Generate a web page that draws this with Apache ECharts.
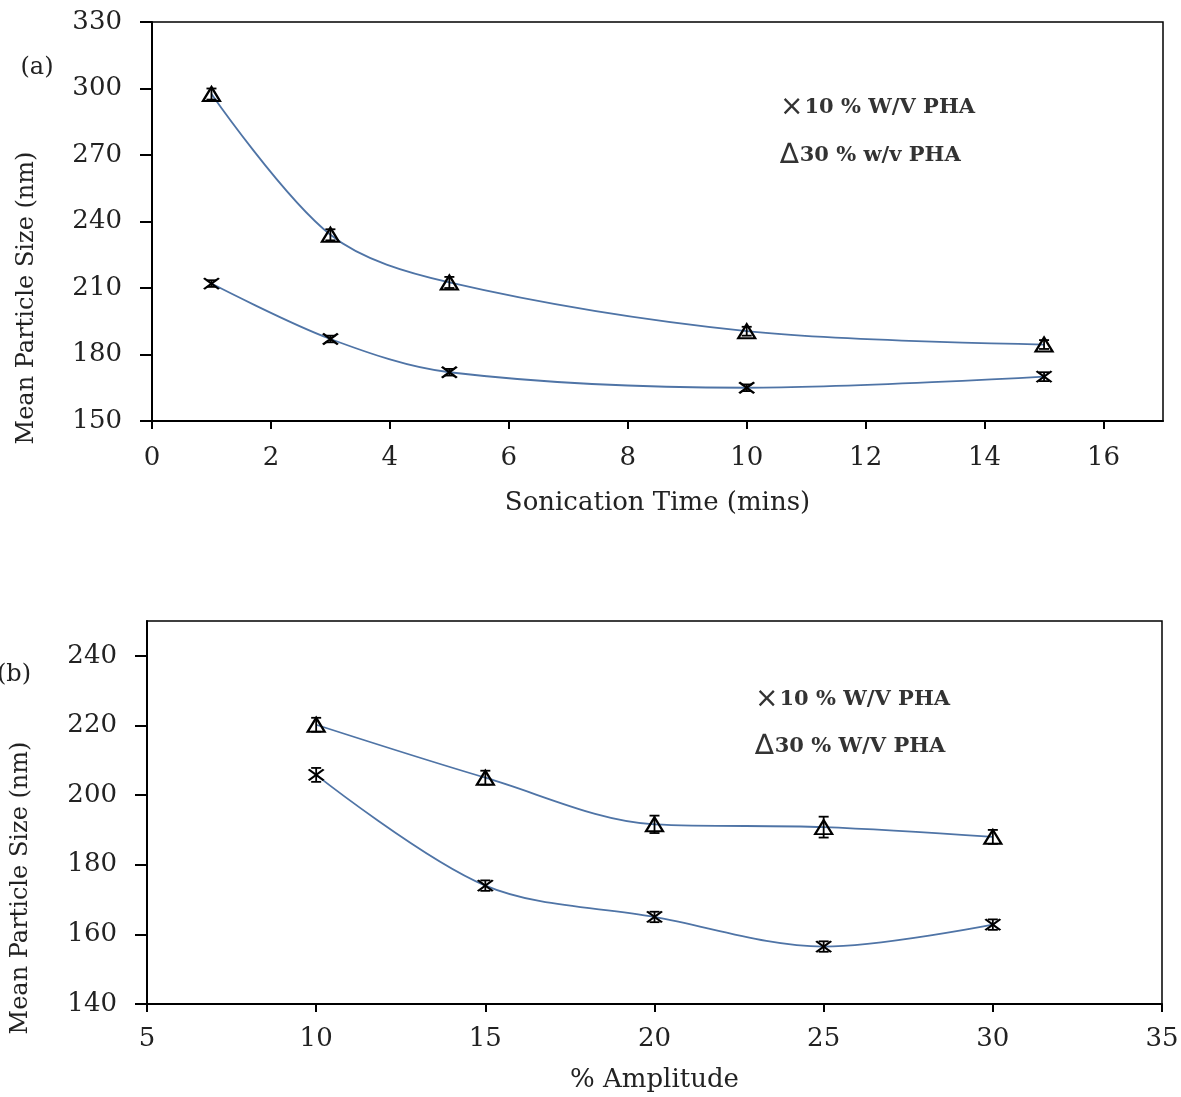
<!DOCTYPE html>
<html><head><meta charset="utf-8">
<script src="https://cdn.jsdelivr.net/npm/echarts@6/dist/echarts.min.js"></script>
<style>html,body{margin:0;padding:0;background:#fff}#c{width:1181px;height:1097px}</style>
</head><body><div id="c"></div>
<script>
// Panel (a): sonication time
const timeX = [1, 3, 5, 10, 15];
const timeP10 = [212, 187, 172, 165, 170];
const timeP10Err = [1.5, 1.5, 1.5, 1.5, 2];
const timeP30 = [297.5, 234, 212.5, 190.5, 184.5];
const timeP30Err = [2.5, 2.5, 2.5, 2, 2];
// Panel (b): amplitude
const ampX = [10, 15, 20, 25, 30];
const ampP10 = [205.8, 174, 165, 156.5, 162.8];
const ampP10Err = [2, 1.5, 1.5, 1.5, 1.5];
const ampP30 = [220.2, 205, 191.6, 190.8, 188];
const ampP30Err = [2, 2, 2.5, 3, 2];

const legendA = [['×', '10 % W/V PHA'], ['∆', '30 % w/v PHA']];
const legendB = [['×', '10 % W/V PHA'], ['∆', '30 % W/V PHA']];
const yTitle = 'Mean Particle Size (nm)';

const FONT = 'DejaVu Serif';
const LINE = '#4f74a6';
const crossSym = 'path://M0,0L10,10M10,0L0,10';
const triSym = 'path://M5,0L10,9L0,9Z';

function pairs(xs, ys){ return xs.map((x,i)=>[x, ys[i]]); }
function errData(xs, ys, es){ return xs.map((x,i)=>[x, ys[i]-es[i], ys[i]+es[i]]); }

function errSeries(xs, ys, es, idx){
  return {
    type:'custom', xAxisIndex: idx, yAxisIndex: idx, z: 5,
    data: errData(xs, ys, es),
    renderItem: function(params, api){
      const lo = api.coord([api.value(0), api.value(1)]);
      const hi = api.coord([api.value(0), api.value(2)]);
      const w = 5;
      const st = {stroke:'#000', lineWidth:1.8};
      return {type:'group', children:[
        {type:'line', shape:{x1:lo[0],y1:lo[1],x2:hi[0],y2:hi[1]}, style:st},
        {type:'line', shape:{x1:lo[0]-w,y1:lo[1],x2:lo[0]+w,y2:lo[1]}, style:st},
        {type:'line', shape:{x1:hi[0]-w,y1:hi[1],x2:hi[0]+w,y2:hi[1]}, style:st}
      ]};
    }
  };
}
function lineSeries(xs, ys, idx, sym){
  const tri = sym === triSym;
  return {
    type:'line', xAxisIndex: idx, yAxisIndex: idx, smooth: 0.33, z: 4,
    data: pairs(xs, ys),
    symbol: sym, symbolSize: tri ? [17, 14] : [15, 11],
    lineStyle:{color: LINE, width: 1.8},
    itemStyle:{color: tri ? 'rgba(255,255,255,0)' : '#000', borderColor:'#000', borderWidth: 2.2},
    emphasis:{disabled:true}
  };
}
function legendText(x, y, item){
  return {type:'text', x:x, y:y, style:{
    text:'{s|' + item[0] + '}{t|' + item[1] + '}', verticalAlign:'middle',
    rich:{
      s:{font:'28px "DejaVu Sans"', fill:'#333', padding:[0,1,0,0]},
      t:{font:'bold 21px "DejaVu Serif"', fill:'#333'}
    }}};
}

const axisLabel = {color:'#222', fontFamily: FONT, fontSize: 26};
const nameStyle = {color:'#222', fontFamily: FONT, fontSize: 26};
const axLine = {show:true, lineStyle:{color:'#000', width:2}};

const chart = echarts.init(document.getElementById('c'));
chart.setOption({
  animation:false,
  grid:[
    {left:152, right:18, top:22, height:399, show:true, borderColor:'#000', borderWidth:1.5, backgroundColor:'#fff', containLabel:false, outerBoundsMode:'none'},
    {left:147, right:19, top:621, height:383, show:true, borderColor:'#000', borderWidth:1.5, backgroundColor:'#fff', containLabel:false, outerBoundsMode:'none'}
  ],
  xAxis:[
    {type:'value', gridIndex:0, min:0, max:17, interval:2,
     name:'Sonication Time (mins)', nameLocation:'middle', nameGap:69, nameTextStyle:nameStyle,
     axisLine:axLine, axisTick:{length:8, lineStyle:{color:'#000', width:2}},
     axisLabel:Object.assign({margin:24, showMaxLabel:false}, axisLabel), splitLine:{show:false}},
    {type:'value', gridIndex:1, min:5, max:35, interval:5,
     name:'% Amplitude', nameLocation:'middle', nameGap:63, nameTextStyle:nameStyle,
     axisLine:axLine, axisTick:{length:8, lineStyle:{color:'#000', width:2}},
     axisLabel:Object.assign({margin:22}, axisLabel), splitLine:{show:false}}
  ],
  yAxis:[
    {type:'value', gridIndex:0, min:150, max:330, interval:30,
     axisLine:axLine, axisTick:{show:true, length:12, lineStyle:{color:'#000', width:2}},
     axisLabel:Object.assign({margin:30}, axisLabel), splitLine:{show:false}},
    {type:'value', gridIndex:1, min:140, max:250, interval:20,
     axisLine:axLine, axisTick:{show:true, length:12, lineStyle:{color:'#000', width:2}},
     axisLabel:Object.assign({margin:30, showMaxLabel:false}, axisLabel), splitLine:{show:false}}
  ],
  graphic:[
    {type:'text', x:27, y:298, rotation:Math.PI/2, style:{text:yTitle, font:'24px "DejaVu Serif"', fill:'#222', align:'center', verticalAlign:'middle'}},
    {type:'text', x:21, y:888, rotation:Math.PI/2, style:{text:yTitle, font:'24px "DejaVu Serif"', fill:'#222', align:'center', verticalAlign:'middle'}},
    {type:'text', x:37, y:68, style:{text:'(a)', font:'24px "DejaVu Serif"', fill:'#222', align:'center', verticalAlign:'middle'}},
    {type:'text', x:14, y:675, style:{text:'(b)', font:'24px "DejaVu Serif"', fill:'#222', align:'center', verticalAlign:'middle'}},
    legendText(780, 108, legendA[0]),
    legendText(780, 156, legendA[1]),
    legendText(755, 700, legendB[0]),
    legendText(755, 747, legendB[1])
  ],
  series:[
    lineSeries(timeX, timeP10, 0, crossSym),
    lineSeries(timeX, timeP30, 0, triSym),
    errSeries(timeX, timeP10, timeP10Err, 0),
    errSeries(timeX, timeP30, timeP30Err, 0),
    lineSeries(ampX, ampP10, 1, crossSym),
    lineSeries(ampX, ampP30, 1, triSym),
    errSeries(ampX, ampP10, ampP10Err, 1),
    errSeries(ampX, ampP30, ampP30Err, 1)
  ]
});
</script></body></html>
